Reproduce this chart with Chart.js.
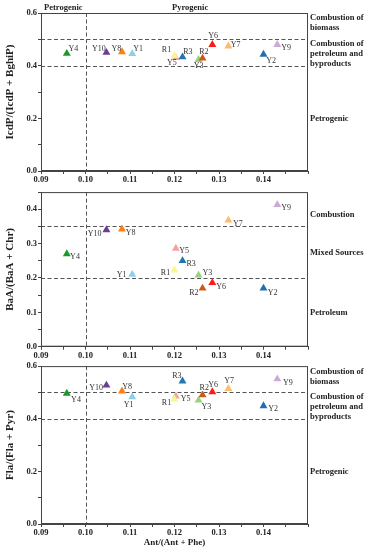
<!DOCTYPE html>
<html>
<head>
<meta charset="utf-8">
<script src="https://cdn.jsdelivr.net/npm/chart.js@4.4.1/dist/chart.umd.min.js"></script>
<style>
html, body { margin: 0; padding: 0; background: #fff; }
#wrap { position: relative; width: 369px; height: 550px; }
canvas { position: absolute; left: 0; }
</style>
</head>
<body>
<div id="wrap">
  <canvas id="c1" width="369" height="186" style="top:0px"></canvas>
  <canvas id="c2" width="369" height="174" style="top:186px"></canvas>
  <canvas id="c3" width="369" height="190" style="top:360px"></canvas>
</div>
<script>
// sampling sites
const sites = ['Y1', 'Y2', 'Y3', 'Y4', 'Y5', 'Y6', 'Y7', 'Y8', 'Y9', 'Y10', 'R1', 'R2', 'R3'];
// Ant/(Ant + Phe)
const antRatio = [0.1105, 0.1400, 0.1254, 0.0958, 0.1203, 0.1285, 0.1321, 0.1082, 0.1431, 0.1047, 0.1200, 0.1263, 0.1218];
// IcdP/(IcdP + BghiP)
const icdpRatio = [0.445, 0.443, 0.423, 0.446, 0.430, 0.480, 0.474, 0.452, 0.480, 0.450, 0.438, 0.428, 0.433];
// BaA/(BaA + Chr)
const baaRatio = [0.210, 0.170, 0.208, 0.270, 0.286, 0.186, 0.368, 0.342, 0.413, 0.340, 0.223, 0.170, 0.250];
// Fla/(Fla + Pyr)
const flaRatio = [0.483, 0.449, 0.470, 0.496, 0.486, 0.502, 0.514, 0.505, 0.551, 0.527, 0.474, 0.490, 0.543];

const siteColors = ['#8ecfe8', '#1f6fb4', '#98d27a', '#1a9a2a', '#f7a1a1', '#ff1a1a', '#fdbb6b',
                    '#ff7f0e', '#cbaad6', '#6a3d9a', '#f7f78e', '#c95a1c', '#1f78b4'];

const SERIF = "'Liberation Serif', 'Times New Roman', serif";

// where each site label sits relative to its marker: [align, dx, dy]
const spots1 = {
  Y1: ['left', 1, -5], Y2: ['left', 2.7, 6.7], Y3: ['center', 0, 6.7], Y4: ['left', 1.7, -5],
  Y5: ['center', -4, 5.3], Y6: ['center', 0.7, -8.3], Y7: ['left', 2.3, -1], Y8: ['right', -0.7, -3.3],
  Y9: ['left', 4, 3], Y10: ['right', -0.7, -4], R1: ['right', -3.3, -5.3], R2: ['center', 1.3, -6.3],
  R3: ['left', 0.7, -5]
};
const spots2 = {
  Y1: ['right', -5.7, 0], Y2: ['left', 4.3, 4.3], Y3: ['left', 4, -2.3], Y4: ['left', 3.3, 3.3],
  Y5: ['left', 3.3, 2.3], Y6: ['left', 4, 3.7], Y7: ['left', 4.7, 3.3], Y8: ['left', 3.7, 3.7],
  Y9: ['left', 4, 3.3], Y10: ['right', -5, 3.7], R1: ['right', -4.3, 3], R2: ['right', -4, 4.7],
  R3: ['left', 4, 2.7]
};
const spots3 = {
  Y1: ['center', -3.7, 8.3], Y2: ['left', 4.7, 3.3], Y3: ['left', 3, 6.7], Y4: ['left', 4.3, 6],
  Y5: ['left', 5, 3.3], Y6: ['center', 0.7, -7], Y7: ['center', 0.7, -8], Y8: ['left', 0.3, -4.3],
  Y9: ['left', 5.7, 4.3], Y10: ['right', -3.3, 2.3], R1: ['right', -3.3, 4], R2: ['center', 1.7, -7.3],
  R3: ['right', -1, -5]
};

// dashed lines, zone captions
const decor = {
  id: 'decor',
  beforeDatasetsDraw(chart, args, opts) {
    const {ctx, chartArea: a, scales: {x, y}} = chart;
    ctx.save();
    ctx.strokeStyle = '#555';
    ctx.lineWidth = 1;
    ctx.setLineDash([4, 2.5]);
    opts.hLines.forEach(v => {
      const py = Math.round(y.getPixelForValue(v)) + 0.5;
      ctx.beginPath(); ctx.moveTo(a.left, py); ctx.lineTo(a.right, py); ctx.stroke();
    });
    opts.vLines.forEach(v => {
      const px = Math.round(x.getPixelForValue(v)) + 0.5;
      ctx.beginPath(); ctx.moveTo(px, a.top); ctx.lineTo(px, a.bottom); ctx.stroke();
    });
    ctx.restore();
  },
  afterDatasetsDraw(chart, args, opts) {
    const {ctx, chartArea: a, scales: {x, y}} = chart;
    ctx.save();
    ctx.strokeStyle = '#444';
    ctx.lineWidth = 1;
    ctx.strokeRect(a.left + 0.5, a.top + 0.5, a.width - 1, a.height - 1);

    ctx.font = '8px ' + SERIF;
    ctx.fillStyle = '#333';
    ctx.textBaseline = 'middle';
    chart.getDatasetMeta(0).data.forEach((pt, i) => {
      const s = opts.spots[sites[i]];
      ctx.textAlign = s[0];
      ctx.fillText(sites[i], pt.x + s[1], pt.y + s[2]);
    });

    ctx.font = 'bold 8.5px ' + SERIF;
    ctx.fillStyle = '#222';
    ctx.textAlign = 'left';
    opts.zones.forEach(z => {
      const cy = y.getPixelForValue(z.at);
      const n = z.lines.length;
      z.lines.forEach((t, k) => ctx.fillText(t, a.right + 2, cy + (k - (n - 1) / 2) * 10));
    });
    ctx.textAlign = 'center';
    (opts.tops || []).forEach(t => ctx.fillText(t.text, x.getPixelForValue(t.at), a.top - 5));
    ctx.restore();
  }
};

function makePanel(id, yVals, cfg) {
  return new Chart(document.getElementById(id), {
    type: 'scatter',
    data: {
      datasets: [{
        data: antRatio.map((v, i) => ({x: v, y: yVals[i]})),
        pointBackgroundColor: siteColors,
        pointBorderWidth: 0,
        pointStyle: 'triangle',
        pointRadius: 4.6
      }]
    },
    options: {
      responsive: false,
      animation: false,
      events: [],
      layout: {padding: {top: cfg.padTop, right: 61, left: 0, bottom: 0}},
      plugins: {
        legend: {display: false},
        tooltip: {enabled: false},
        decor: cfg.decor
      },
      scales: {
        x: {
          type: 'linear', min: 0.09, max: 0.15,
          afterFit: s => { s.height = cfg.xHeight; },
          border: {color: '#444', width: 1},
          grid: {drawOnChartArea: false, tickLength: 3, color: '#444'},
          ticks: {
            stepSize: 0.005, autoSkip: false, maxRotation: 0, padding: 1,
            color: '#222', font: {family: SERIF, size: 8.5, weight: 'bold'},
            callback: v => {
              const k = Math.round(v * 1000);
              return (k % 10 === 0 && k < 150) ? (k / 1000).toFixed(2) : '';
            }
          },
          title: cfg.xTitle ? {
            display: true, text: cfg.xTitle, color: '#222',
            font: {family: SERIF, size: 9, weight: 'bold'}, padding: {top: 0, bottom: 2}
          } : {display: false}
        },
        y: {
          min: 0, max: cfg.yMax,
          afterFit: s => { s.width = 41; },
          border: {color: '#444', width: 1},
          grid: {drawOnChartArea: false, tickLength: 3, color: '#444'},
          ticks: {
            stepSize: cfg.yMinor, autoSkip: false, padding: 1,
            color: '#222', font: {family: SERIF, size: 8.5, weight: 'bold'},
            callback: v => {
              const k = Math.round(v * 100);
              return (k % cfg.yMajor === 0) ? (k / 100).toFixed(1) : '';
            }
          },
          title: {
            display: true, text: cfg.yTitle, color: '#222',
            font: {family: SERIF, size: 11, weight: 'bold'}, padding: {top: 4, bottom: 0}
          }
        }
      }
    },
    plugins: [decor]
  });
}

makePanel('c1', icdpRatio, {
  padTop: 13, xHeight: 15, yMax: 0.6, yMinor: 0.1, yMajor: 20,
  yTitle: 'IcdP/(IcdP + BghiP)',
  decor: {
    spots: spots1, hLines: [0.5, 0.4], vLines: [0.10],
    zones: [
      {at: 0.561, lines: ['Combustion of', 'biomass']},
      {at: 0.446, lines: ['Combustion of', 'petroleum and', 'byproducts']},
      {at: 0.2, lines: ['Petrogenic']}
    ],
    tops: [{at: 0.095, text: 'Petrogenic'}, {at: 0.1235, text: 'Pyrogenic'}]
  }
});

makePanel('c2', baaRatio, {
  padTop: 3, xHeight: 13.3, yMax: 0.45, yMinor: 0.05, yMajor: 10,
  yTitle: 'BaA/(BaA + Chr)',
  decor: {
    spots: spots2, hLines: [0.35, 0.2], vLines: [0.10],
    zones: [
      {at: 0.383, lines: ['Combustion']},
      {at: 0.273, lines: ['Mixed Sources']},
      {at: 0.1, lines: ['Petroleum']}
    ]
  }
});

makePanel('c3', flaRatio, {
  padTop: 6, xHeight: 26, yMax: 0.6, yMinor: 0.1, yMajor: 20,
  yTitle: 'Fla/(Fla + Pyr)', xTitle: 'Ant/(Ant + Phe)',
  decor: {
    spots: spots3, hLines: [0.5, 0.4], vLines: [0.10],
    zones: [
      {at: 0.559, lines: ['Combustion of', 'biomass']},
      {at: 0.445, lines: ['Combustion of', 'petroleum and', 'byproducts']},
      {at: 0.2, lines: ['Petrogenic']}
    ]
  }
});
</script>
</body>
</html>
